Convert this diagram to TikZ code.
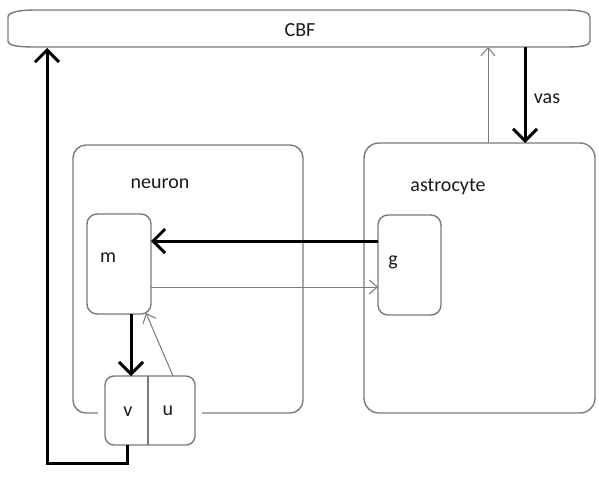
\documentclass[tikz,border=0pt]{standalone}
\usepackage{fontspec}
\setmainfont{Carlito}
\usetikzlibrary{arrows.meta}
\definecolor{boxgray}{HTML}{7A7A7A}
\definecolor{txt}{HTML}{1A1A1A}
\tikzset{
  box/.style={draw=boxgray, line width=1.4pt, fill=white},
  lbl/.style={text=txt, font=\fontsize{20}{23}\selectfont, inner sep=0pt},
  thick arrow/.style={line width=3pt, black, -{Straight Barb[length=12pt,width=24pt,line width=3pt]}},
  thin arrow/.style={line width=1pt, boxgray, -{Straight Barb[length=8pt,width=14pt,line width=1pt]}},
}
\begin{document}
\begin{tikzpicture}[x=1pt,y=-1pt]
\useasboundingbox (0,0) rectangle (599,495);
% CBF
\draw[box] (8,17) .. controls (8,12) and (20,10) .. (35,10) -- (565,10) .. controls (580,10) and (590,12) .. (590,17)
  -- (590,41) .. controls (590,46) and (580,47) .. (565,47) -- (35,47) .. controls (20,47) and (8,46) .. (8,41) -- cycle;
\node[lbl] (cbf) at (300,30) {CBF};
\coordinate (cbfL) at (47,48);
\coordinate (cbfT) at (488,47);
\coordinate (cbfV) at (525,47);
% neuron
\draw[box, rounded corners=13pt] (73,145) rectangle (303,413);
\node[lbl] (neuron) at (160,184) {neuron};
% astrocyte
\draw[box, rounded corners=15pt] (364,143) rectangle (595,413);
\node[lbl] (astro) at (448,187) {astrocyte};
\coordinate (astT) at (488,143);
\coordinate (astV) at (525,143);
% m box
\draw[box, rounded corners=10pt] (87,214) rectangle (151,314);
\node[lbl] (m) at (108,258) {m};
\coordinate (mR1) at (151,241);
\coordinate (mR2) at (151,287);
\coordinate (mB) at (131,314);
\coordinate (mBR) at (146,313);
% g box
\draw[box, rounded corners=10pt] (378,215) rectangle (441,315);
\node[lbl] (g) at (393,262) {g};
\coordinate (gL1) at (378,241);
\coordinate (gL2) at (378,287);
% vu box
\fill[white] (98,370) rectangle (202,420);
\draw[box, rounded corners=9pt] (105,376) rectangle (195,445);
\draw[boxgray, line width=1.2pt] (148,376) -- (148,445);
\node[lbl] (v) at (128,412) {v};
\node[lbl] (u) at (168,411) {u};
\coordinate (vT) at (131,376);
\coordinate (vB) at (127,445);
\coordinate (uT) at (173,376);
% arrows
\draw[thick arrow] (gL1) -- (mR1);
\draw[thin arrow] (mR2) -- (gL2);
\draw[thick arrow] (mB) -- (vT);
\draw[thin arrow] (uT) -- (mBR);
\draw[thin arrow] (astT) -- (cbfT);
\draw[thick arrow] (cbfV) -- (astV);
\node[lbl] (vas) at (547,99) {vas};
\draw[thick arrow] (vB) -- (127,463) -- (47,463) -- (cbfL);
\end{tikzpicture}
\end{document}
